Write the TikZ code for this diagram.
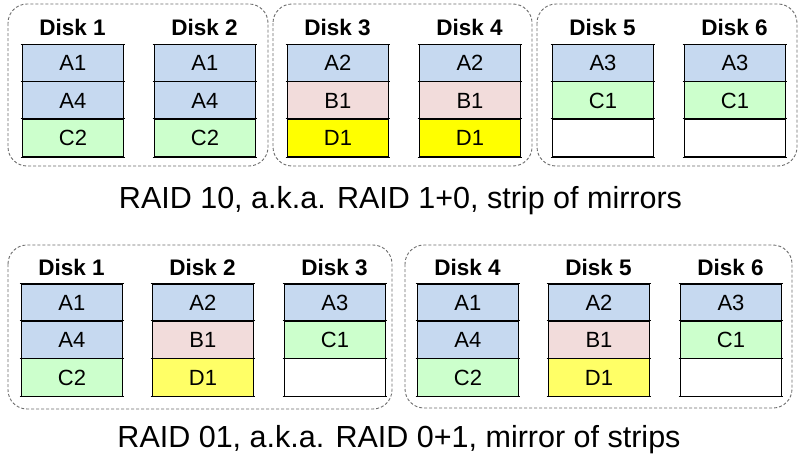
\documentclass[tikz,border=0pt]{standalone}
\usepackage{fontspec}
\setmainfont{Liberation Sans}
\definecolor{cblue}{HTML}{C6D9F0}
\definecolor{cpink}{HTML}{F2DCDB}
\definecolor{cgreen}{HTML}{CCFFCC}
\definecolor{cyel}{HTML}{FFFF00}
\definecolor{cyellow}{HTML}{FFFF66}
\definecolor{cgrp}{HTML}{6E6E6E}
\tikzset{
  cellbox/.style={draw=black,line width=0.9pt,minimum width=101pt,minimum height=37.4pt,inner sep=0pt,font=\fontsize{22}{25}\selectfont},
  disklabel/.style={inner sep=0pt,font=\fontsize{22.5}{25}\selectfont\bfseries},
  cellline/.style={draw=black,line width=0.9pt},
  groupbox/.style={draw=cgrp,line width=0.9pt,dash pattern=on 3pt off 2pt,rounded corners=19pt},
  titletext/.style={inner sep=0pt,anchor=base,font=\fontsize{30.5}{34}\selectfont},
}
\newcommand\mkdisk[6]{%
  \node[disklabel] (#1l) at (#2+50.5,#3) {#5};
  \foreach \f/\t [count=\i from 0] in {#6} {
    \node[cellbox,fill=\f,anchor=north west] (#1c\i) at (#2,#4+\i*37.4) {\t};
    \draw[cellline] ([xshift=-1.5pt]#1c\i.north west) -- ([xshift=1.5pt]#1c\i.north east);
  }
  \draw[cellline] ([xshift=-1.5pt]#1c2.south west) -- ([xshift=1.5pt]#1c2.south east);
}
\begin{document}
\begin{tikzpicture}[x=1pt,y=-1pt]
\useasboundingbox[fill=white] (0,0) rectangle (801,458);
% top row groups
\draw[groupbox] (8,4) rectangle (268,166);
\draw[groupbox] (273,4) rectangle (532,166);
\draw[groupbox] (537,4) rectangle (797,166);
\mkdisk{ta}{22}{27}{44}{Disk 1}{cblue/A1,cblue/A4,cgreen/C2}
\mkdisk{tb}{154}{27}{44}{Disk 2}{cblue/A1,cblue/A4,cgreen/C2}
\mkdisk{tc}{287}{27}{44}{Disk 3}{cblue/A2,cpink/B1,cyel/D1}
\mkdisk{td}{419}{27}{44}{Disk 4}{cblue/A2,cpink/B1,cyel/D1}
\mkdisk{te}{552}{27}{44}{Disk 5}{cblue/A3,cgreen/C1,white/\relax}
\mkdisk{tf}{684}{27}{44}{Disk 6}{cblue/A3,cgreen/C1,white/\relax}
\node[titletext] (t1) at (400.5,208) {RAID 10, a.k.a. RAID 1+0, strip of mirrors};
% bottom row groups
\draw[groupbox] (8,245) rectangle (392,409);
\draw[groupbox] (405,245) rectangle (792,408);
\mkdisk{ba}{21}{267}{283.5}{Disk 1}{cblue/A1,cblue/A4,cgreen/C2}
\mkdisk{bb}{152}{267}{283.5}{Disk 2}{cblue/A2,cpink/B1,cyellow/D1}
\mkdisk{bc}{284}{267}{283.5}{Disk 3}{cblue/A3,cgreen/C1,white/\relax}
\mkdisk{bd}{417}{267}{283.5}{Disk 4}{cblue/A1,cblue/A4,cgreen/C2}
\mkdisk{be}{548}{267}{283.5}{Disk 5}{cblue/A2,cpink/B1,cyellow/D1}
\mkdisk{bf}{680}{267}{283.5}{Disk 6}{cblue/A3,cgreen/C1,white/\relax}
\node[titletext] (t2) at (399,447) {RAID 01, a.k.a. RAID 0+1, mirror of strips};
\end{tikzpicture}
\end{document}
